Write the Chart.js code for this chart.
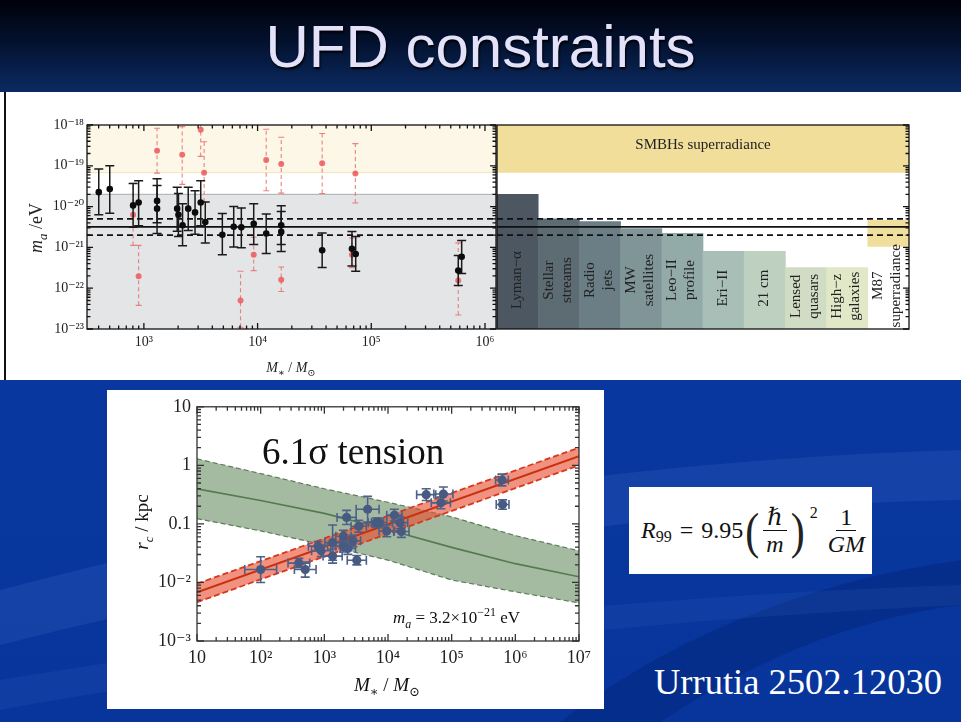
<!DOCTYPE html>
<html lang="en">
<head>
<meta charset="UTF-8" />
<title>UFD constraints</title>
<script src="https://cdn.jsdelivr.net/npm/chart.js"></script>
<style>
  html, body { margin: 0; padding: 0; }
  body { width: 961px; height: 722px; position: relative; overflow: hidden;
         background: linear-gradient(180deg, #0a3696 0%, #0838a0 40%, #07359b 100%);
         font-family: "Liberation Serif", "DejaVu Serif", serif; }
  #titlebar { position: absolute; left: 0; top: 0; width: 961px; height: 92px;
              background: linear-gradient(180deg, #00010a 0%, #03112e 45%, #0b2a62 100%); }
  #titlebar h1 { position: absolute; left: 0; top: 14px; width: 961px; margin: 0;
                 text-align: center; font: 60px/66px "Liberation Sans", Arial, sans-serif;
                 font-weight: normal; color: #e4e2fa; text-shadow: 1px 2px 2px #000; }
  #toppanel { position: absolute; left: 0; top: 92px; width: 961px; height: 288px; background: #fff; }
  #edge { position: absolute; left: 4px; top: 92px; width: 2px; height: 288px; background: #111; }
  #swoosh { position: absolute; left: 0; top: 380px; }
  canvas { position: absolute; }
  #cLeft { left: 0; top: 95px; }
  #cRight { left: 494px; top: 95px; }
  #botbox { position: absolute; left: 107px; top: 390px; width: 497px; height: 319px; background: #fff; }
  #cBottom { left: 0; top: 0; }
  #formula { position: absolute; left: 629px; top: 487px; width: 243px; height: 87px; background: #fff;
             display: flex; align-items: center; padding-left: 12px; box-sizing: border-box;
             font-size: 24px; color: #111; white-space: nowrap; }
  #formula .it { font-style: italic; }
  #formula .sub { font-size: 16px; position: relative; top: 6px; }
  #formula .op { margin: 0 8px; }
  #formula .paren { font-size: 42px; font-weight: 300; transform: scaleY(1.2); margin: 0 2px; color: #222; }
  #formula .frac { display: inline-flex; flex-direction: column; align-items: center; margin: 0 2px; line-height: 26px; }
  #formula .frac .num { border-bottom: 1.3px solid #111; padding: 0 4px; }
  #formula .sup { font-size: 16px; position: relative; top: -18px; margin: 0 8px 0 3px; }
  #cite { position: absolute; left: 654px; top: 664px; font-size: 36.5px; line-height: 35px; color: #fff; white-space: nowrap; }
</style>
</head>
<body>
<div id="titlebar"><h1>UFD constraints</h1></div>
<div id="toppanel"></div>
<div id="edge"></div>
<svg id="swoosh" width="961" height="342" viewBox="0 0 961 342">
  <path d="M0 210 C 260 140, 600 80, 961 70 L 961 120 C 640 125, 320 185, 0 265 Z" fill="rgba(110,150,235,0.13)"/>
  <path d="M560 342 C 680 250, 820 200, 961 180 L 961 225 C 840 240, 740 290, 660 342 Z" fill="rgba(0,18,80,0.22)"/>
  <path d="M0 300 C 300 250, 650 215, 961 205 L 961 225 C 650 240, 300 275, 0 330 Z" fill="rgba(120,160,240,0.08)"/>
</svg>
<canvas id="cLeft" width="500" height="285"></canvas>
<canvas id="cRight" width="467" height="285"></canvas>
<div id="botbox"><canvas id="cBottom" width="497" height="319"></canvas></div>
<div id="formula">
  <span class="it">R</span><span class="sub">99</span><span class="op">=</span><span>9.95</span>
  <span class="paren">(</span><span class="frac"><span class="num it">ℏ</span><span class="it">m</span></span><span class="paren">)</span><span class="sup">2</span>
  <span class="frac"><span class="num">1</span><span class="it">GM</span></span>
</div>
<div id="cite">Urrutia 2502.12030</div>

<script>
// ---------- upper figure: axion mass bound per dwarf ----------
const topXMin = 316, topXMax = 1.25e6;
const topYMin = 1e-23, topYMax = 1e-18;
const topXTicks = [1e3, 1e4, 1e5, 1e6];
const topXLabels = ['10³', '10⁴', '10⁵', '10⁶'];
const topYTicks = [1e-23, 1e-22, 1e-21, 1e-20, 1e-19, 1e-18];
const topYLabels = ['10⁻²³', '10⁻²²', '10⁻²¹', '10⁻²⁰', '10⁻¹⁹', '10⁻¹⁸'];

const blackMass = [401, 501, 804, 899, 1306, 1306, 1963, 2014, 2188, 2455, 2818, 3162, 3467,
                   4898, 6166, 7194, 9247, 11910, 16140, 16140, 36980, 67610, 72940, 582100, 623700];
const blackMa = [2.26e-20, 2.7e-20, 1.07e-20, 1.26e-20, 1.38e-20, 8.9e-21, 8.9e-21, 6.3e-21, 3.5e-21, 8.9e-21, 7.2e-21, 1.26e-20, 4.2e-21,
                 2.04e-21, 3.2e-21, 3.1e-21, 3.8e-21, 2.2e-21, 3.5e-21, 2.4e-21, 8.5e-22, 9.3e-22, 6.9e-22, 2.7e-22, 5.9e-22];
const blackHi = [8.3e-20, 1.0e-19, 3.7e-20, 4.3e-20, 4.8e-20, 3.3e-20, 3.0e-20, 2.1e-20, 1.17e-20, 3.0e-20, 2.45e-20, 4.3e-20, 1.29e-20,
                 6.8e-21, 1.0e-20, 9.3e-21, 1.17e-20, 6.6e-21, 1.05e-20, 7.6e-21, 2.24e-21, 2.45e-21, 1.86e-21, 6.3e-22, 1.48e-21];
const blackLo = [6.3e-21, 6.9e-21, 3.1e-21, 3.4e-21, 4.0e-21, 2.2e-21, 2.5e-21, 1.86e-21, 1.1e-21, 2.6e-21, 2.1e-21, 3.4e-21, 1.29e-21,
                 6.6e-22, 1.02e-21, 9.8e-22, 1.17e-21, 7.1e-22, 1.17e-21, 7.9e-22, 3.2e-22, 3.5e-22, 2.6e-22, 1.17e-22, 2.3e-22];

const redMass = [804, 899, 1306, 2173, 3162, 3388, 7079, 9247, 11910, 16140, 16140, 36980, 72440, 67610, 582100];
const redMa = [6.3e-21, 1.95e-22, 2.34e-19, 1.86e-19, 7.6e-19, 6.8e-20, 5.0e-23, 6.6e-22, 1.38e-19, 1.1e-19, 1.62e-22, 1.15e-19, 6.5e-20, 6.6e-22, 1.55e-22];
const redHi = [3.7e-20, 1.12e-21, 8.3e-19, 9.1e-19, 1.2e-18, 3.9e-19, 2.6e-22, 1.78e-21, 7.9e-19, 5.0e-19, 3.3e-22, 6.2e-19, 3.5e-19, 1.7e-21, 1.29e-21];
const redLo = [1.12e-21, 3.8e-23, 6.6e-20, 3.5e-20, 1.7e-19, 1.29e-20, 1.1e-23, 2.7e-22, 2.45e-20, 2.14e-20, 8.3e-23, 2.1e-20, 1.23e-20, 3.2e-22, 2.2e-23];

const smbhBand = [6.8e-20, 1e-18];
const lymanTop = 2.0e-20;
const refMass = 3.2e-21;
const refBand = [2.0e-21, 5.0e-21];

// other constraints (right panel)
const constraintLabels = [['Lyman−α'], ['Stellar', 'streams'], ['Radio', 'jets'], ['MW', 'satellites'], ['Leo−II', 'profile'],
                          ['Eri−II'], ['21 cm'], ['Lensed', 'quasars'], ['High−z', 'galaxies'], ['M87', 'superradiance']];
const constraintTop = [2.0e-20, 5.0e-21, 4.3e-21, 2.9e-21, 2.2e-21, 8.0e-22, 8.0e-22, 3.2e-22, 3.2e-22, null];
const m87Range = [1.05e-21, 4.6e-21];
const constraintColors = ['#4c5761', '#5d6b73', '#6c7e85', '#7f9598', '#93aba8', '#a7bfb6', '#bed1c0', '#d0ddc4', '#e0e8c7', '#f0de9c'];

// ---------- lower figure: core radius vs stellar mass ----------
const botXTicks = [10, 1e2, 1e3, 1e4, 1e5, 1e6, 1e7];
const botXLabels = ['10', '10²', '10³', '10⁴', '10⁵', '10⁶', '10⁷'];
const botYTicks = [1e-3, 1e-2, 0.1, 1, 10];
const botYLabels = ['10⁻³', '10⁻²', '0.1', '1', '10'];

const ufdMass = [100, 398, 501, 794, 891, 1349, 1349, 1995, 1995, 2239, 2344, 2818, 3236,
                 3467, 4786, 6457, 7244, 9550, 12590, 15490, 16220, 39810, 67610, 74130, 616600, 631000];
const ufdRc = [0.0166, 0.0214, 0.0166, 0.0417, 0.0347, 0.0282, 0.0479, 0.0617, 0.0417, 0.129, 0.038, 0.0513, 0.024,
               0.0912, 0.178, 0.105, 0.105, 0.0759, 0.141, 0.105, 0.0741, 0.316, 0.229, 0.324, 0.562, 0.214];
const ufdMassErrDex = [0.25, 0.17, 0.17, 0.15, 0.15, 0.15, 0.12, 0.12, 0.12, 0.15, 0.12, 0.12, 0.15,
                       0.12, 0.18, 0.12, 0.12, 0.12, 0.12, 0.12, 0.12, 0.15, 0.15, 0.15, 0.10, 0.10];
const ufdRcErrDex = [0.22, 0.08, 0.13, 0.08, 0.10, 0.12, 0.30, 0.10, 0.10, 0.12, 0.10, 0.10, 0.08,
                     0.10, 0.22, 0.08, 0.08, 0.10, 0.10, 0.10, 0.10, 0.10, 0.10, 0.12, 0.10, 0.08];

const greenX = [10, 1e2, 1e3, 1e4, 1e5, 1e6, 1e7];
const greenUpper = [1.29, 0.724, 0.398, 0.234, 0.132, 0.0631, 0.0347];
const greenMid = [0.398, 0.251, 0.151, 0.0794, 0.0398, 0.0209, 0.0125];
const greenLower = [0.123, 0.0759, 0.0437, 0.024, 0.011, 0.00692, 0.00447];

const redX = [10, 1e7];
const redUpper = [0.0095, 2.0];
const redMid = [0.0068, 1.43];
const redLower = [0.0046, 1.0];

// ---------- helpers ----------
Chart.defaults.font.family = '"Liberation Serif", "DejaVu Serif", serif';
Chart.defaults.color = '#222';
const FAM = '"Liberation Serif", "DejaVu Serif", serif';

function logSteps(min, max) {
  const out = [];
  for (let e = Math.floor(Math.log10(min)); e <= Math.ceil(Math.log10(max)); e++) {
    for (let k = 1; k <= 9; k++) {
      const v = k * Math.pow(10, e);
      if (v >= min * 0.999 && v <= max * 1.001) out.push({ v, major: k === 1 });
    }
  }
  return out;
}

// draws text pieces with italic / sub / sup parts
function rich(ctx, parts, x, y, size, align) {
  const fontOf = p => (p.it ? 'italic ' : '') + Math.round(p.sub || p.sup ? size * 0.7 : size) + 'px ' + FAM;
  let total = 0;
  const widths = parts.map(p => { ctx.font = fontOf(p); const w = ctx.measureText(p.t).width; total += w; return w; });
  let cx = align === 'center' ? x - total / 2 : align === 'right' ? x - total : x;
  ctx.textAlign = 'left';
  ctx.textBaseline = 'alphabetic';
  parts.forEach((p, i) => {
    ctx.font = fontOf(p);
    const dy = p.sub ? size * 0.28 : p.sup ? -size * 0.42 : 0;
    ctx.fillText(p.t, cx, y + dy);
    cx += widths[i];
  });
}

const massTitle = [{ t: 'M', it: 1 }, { t: '∗', sub: 1 }, { t: ' / ' }, { t: 'M', it: 1 }, { t: '⊙', sub: 1 }];

// frame + inward log ticks
const frameTicks = {
  id: 'frameTicks',
  afterDraw(chart, args, o) {
    const { ctx, chartArea: a } = chart;
    ctx.save();
    ctx.strokeStyle = o.color || '#111';
    ctx.lineWidth = o.width || 1;
    ctx.beginPath();
    const seg = (x1, y1, x2, y2) => { ctx.moveTo(x1, y1); ctx.lineTo(x2, y2); };
    const xs = o.xSides || [], ys = o.ySides || [];
    if (xs.length) {
      const sx = chart.scales.x;
      logSteps(sx.min, sx.max).forEach(t => {
        const px = sx.getPixelForValue(t.v), len = t.major ? o.major : o.minor;
        if (xs.includes('bottom')) seg(px, a.bottom, px, a.bottom - len);
        if (xs.includes('top')) seg(px, a.top, px, a.top + len);
      });
    }
    if (ys.length) {
      const sy = chart.scales.y;
      logSteps(sy.min, sy.max).forEach(t => {
        const py = sy.getPixelForValue(t.v), len = t.major ? o.major : o.minor;
        if (ys.includes('left')) seg(a.left, py, a.left + len, py);
        if (ys.includes('right')) seg(a.right, py, a.right - len, py);
      });
    }
    ctx.stroke();
    ctx.strokeRect(a.left, a.top, a.right - a.left, a.bottom - a.top);
    ctx.restore();
  }
};

// error bars drawn just before the points of their dataset
const errorBars = {
  id: 'errorBars',
  beforeDatasetDraw(chart, args) {
    const e = chart.data.datasets[args.index].errorBars;
    if (!e) return;
    const { ctx, chartArea: a, scales: { x, y } } = chart;
    ctx.save();
    ctx.beginPath();
    ctx.rect(a.left, a.top, a.right - a.left, a.bottom - a.top);
    ctx.clip();
    ctx.strokeStyle = e.color;
    ctx.lineWidth = e.width;
    args.meta.data.forEach((pt, i) => {
      const c = e.cap;
      if (e.yLo) {
        const y1 = y.getPixelForValue(e.yLo[i]), y2 = y.getPixelForValue(e.yHi[i]);
        ctx.setLineDash(e.dash || []);
        ctx.beginPath(); ctx.moveTo(pt.x, y1); ctx.lineTo(pt.x, y2); ctx.stroke();
        ctx.setLineDash([]);
        ctx.beginPath();
        ctx.moveTo(pt.x - c, y1); ctx.lineTo(pt.x + c, y1);
        ctx.moveTo(pt.x - c, y2); ctx.lineTo(pt.x + c, y2);
        ctx.stroke();
      }
      if (e.xLo) {
        const x1 = x.getPixelForValue(e.xLo[i]), x2 = x.getPixelForValue(e.xHi[i]);
        ctx.beginPath();
        ctx.moveTo(x1, pt.y); ctx.lineTo(x2, pt.y);
        ctx.moveTo(x1, pt.y - c); ctx.lineTo(x1, pt.y + c);
        ctx.moveTo(x2, pt.y - c); ctx.lineTo(x2, pt.y + c);
        ctx.stroke();
      }
    });
    ctx.restore();
  }
};

const hLine = (xAxis, x0, x1, yv, dash, extra) => Object.assign({
  type: 'line', xAxisID: xAxis, data: [{ x: x0, y: yv }, { x: x1, y: yv }],
  borderColor: '#111', borderWidth: 1.8, borderDash: dash, pointRadius: 0, fill: false, order: 5
}, extra || {});

const noChrome = { legend: { display: false }, tooltip: { enabled: false } };

// ---------- upper left panel ----------
new Chart(document.getElementById('cLeft'), {
  type: 'scatter',
  data: {
    datasets: [
      { type: 'line', data: [{ x: topXMin, y: smbhBand[1] }, { x: topXMax, y: smbhBand[1] }], fill: { value: smbhBand[0] },
        backgroundColor: '#fdf7e8', borderWidth: 0, pointRadius: 0, order: 30 },
      hLine('x', topXMin, topXMax, smbhBand[0], [], { borderColor: '#f3e4ba', borderWidth: 1, order: 29 }),
      { type: 'line', data: [{ x: topXMin, y: lymanTop }, { x: topXMax, y: lymanTop }], fill: 'start',
        backgroundColor: '#e4e5e7', borderColor: '#a9abad', borderWidth: 1, pointRadius: 0, order: 28 },
      hLine('x', topXMin, topXMax, refMass, []),
      hLine('x', topXMin, topXMax, refBand[0], [6, 4]),
      hLine('x', topXMin, topXMax, refBand[1], [6, 4]),
      { data: redMass.map((m, i) => ({ x: m, y: redMa[i] })), pointRadius: 3, pointBorderWidth: 0,
        pointBackgroundColor: 'rgba(236,90,90,0.85)', order: 2,
        errorBars: { yLo: redLo, yHi: redHi, color: 'rgba(232,110,110,0.85)', width: 1.1, dash: [4, 3], cap: 3 } },
      { data: blackMass.map((m, i) => ({ x: m, y: blackMa[i] })), pointRadius: 3.3, pointBorderWidth: 0,
        pointBackgroundColor: '#0c0c0c', order: 1,
        errorBars: { yLo: blackLo, yHi: blackHi, color: '#1a1a1a', width: 1.5, cap: 4.5 } }
    ]
  },
  options: {
    responsive: false, animation: false,
    layout: { padding: { left: 0, right: 3, top: 30, bottom: 0 } },
    plugins: Object.assign({}, noChrome, {
      frameTicks: { xSides: ['bottom', 'top'], ySides: ['left', 'right'], major: 6, minor: 3.5, width: 1.3 }
    }),
    scales: {
      x: { type: 'logarithmic', min: topXMin, max: topXMax,
           afterFit: s => { s.height = 51; },
           afterBuildTicks: s => { s.ticks = topXTicks.map(v => ({ value: v })); },
           grid: { display: false, drawTicks: false }, border: { display: false },
           ticks: { autoSkip: false, maxRotation: 0, padding: 5, font: { size: 14 }, callback: (v, i) => topXLabels[i] } },
      y: { type: 'logarithmic', min: topYMin, max: topYMax,
           afterFit: s => { s.width = 87; },
           afterBuildTicks: s => { s.ticks = topYTicks.map(v => ({ value: v })); },
           grid: { display: false, drawTicks: false }, border: { display: false },
           ticks: { autoSkip: false, padding: 3, font: { size: 14 }, callback: (v, i) => topYLabels[i] } }
    }
  },
  plugins: [errorBars, frameTicks, {
    id: 'titlesTop',
    afterDraw(chart) {
      const ctx = chart.ctx;
      ctx.save();
      ctx.fillStyle = '#222';
      rich(ctx, massTitle, 291, 277, 14, 'center');
      ctx.translate(42, 133);
      ctx.rotate(-Math.PI / 2);
      rich(ctx, [{ t: 'm', it: 1 }, { t: 'a', it: 1, sub: 1 }, { t: ' /eV' }], 0, 0, 18, 'center');
      ctx.restore();
    }
  }]
});

// ---------- upper right panel ----------
new Chart(document.getElementById('cRight'), {
  type: 'bar',
  data: {
    labels: constraintLabels,
    datasets: [
      { type: 'line', xAxisID: 'xl', data: [{ x: 0, y: smbhBand[1] }, { x: 1, y: smbhBand[1] }], fill: { value: smbhBand[0] },
        backgroundColor: '#f1de9b', borderWidth: 0, pointRadius: 0, order: 30 },
      { data: constraintTop, backgroundColor: constraintColors, order: 20 },
      { data: constraintTop.map((v, i) => i === constraintTop.length - 1 ? m87Range : null), backgroundColor: '#f0de9c', order: 19 },
      hLine('xl', 0, 1, refMass, []),
      hLine('xl', 0, 1, refBand[0], [6, 4]),
      hLine('xl', 0, 1, refBand[1], [6, 4])
    ]
  },
  options: {
    responsive: false, animation: false,
    layout: { padding: { left: 3, right: 52, top: 30, bottom: 51 } },
    datasets: { bar: { grouped: false, barPercentage: 1, categoryPercentage: 1, borderWidth: 0 } },
    plugins: Object.assign({}, noChrome, {
      frameTicks: { xSides: [], ySides: ['right'], major: 6, minor: 3.5, width: 1.3 }
    }),
    scales: {
      x: { display: false },
      xl: { type: 'linear', min: 0, max: 1, offset: false, display: false },
      y: { type: 'logarithmic', min: topYMin, max: topYMax, display: false }
    }
  },
  plugins: [frameTicks, {
    id: 'barText',
    afterDatasetsDraw(chart) {
      const { ctx, chartArea: a, scales: { x, y } } = chart;
      ctx.save();
      ctx.fillStyle = '#222';
      ctx.font = '15px ' + FAM;
      ctx.textAlign = 'center';
      ctx.textBaseline = 'alphabetic';
      ctx.fillText('SMBHs superradiance', (a.left + a.right) / 2, 54);
      ctx.textBaseline = 'middle';
      constraintLabels.forEach((lines, i) => {
        const top = constraintTop[i] !== null ? constraintTop[i] : m87Range[0];
        const upper = Math.max(y.getPixelForValue(top), y.getPixelForValue(refBand[0]));
        const cy = (upper + a.bottom) / 2 - 2;
        const cx = x.getPixelForValue(i);
        lines.forEach((ln, j) => {
          const off = (j - (lines.length - 1) / 2) * 18;
          ctx.save();
          ctx.translate(cx + off - 1, cy);
          ctx.rotate(-Math.PI / 2);
          ctx.fillText(ln, 0, 0);
          ctx.restore();
        });
      });
      ctx.restore();
    }
  }]
});

// ---------- lower figure ----------
const pts = (xs, ys) => xs.map((v, i) => ({ x: v, y: ys[i] }));

new Chart(document.getElementById('cBottom'), {
  type: 'scatter',
  data: {
    datasets: [
      { type: 'line', data: pts(greenX, greenUpper), borderColor: '#5e7d5b', borderWidth: 1.2, borderDash: [5, 3],
        fill: '+1', backgroundColor: 'rgba(105,142,98,0.6)', pointRadius: 0, order: 30 },
      { type: 'line', data: pts(greenX, greenLower), borderColor: '#5e7d5b', borderWidth: 1.2, borderDash: [5, 3],
        fill: false, pointRadius: 0, order: 29 },
      { type: 'line', data: pts(greenX, greenMid), borderColor: '#557a50', borderWidth: 1.7, fill: false, pointRadius: 0, order: 28 },
      { type: 'line', data: pts(redX, redUpper), borderColor: '#d8381c', borderWidth: 1.8, borderDash: [6, 3],
        fill: '+1', backgroundColor: 'rgba(232,78,48,0.62)', pointRadius: 0, order: 20 },
      { type: 'line', data: pts(redX, redLower), borderColor: '#d8381c', borderWidth: 1.8, borderDash: [6, 3],
        fill: false, pointRadius: 0, order: 19 },
      { type: 'line', data: pts(redX, redMid), borderColor: '#c8300e', borderWidth: 2, fill: false, pointRadius: 0, order: 18 },
      { data: pts(ufdMass, ufdRc), pointRadius: 4.6, pointBorderWidth: 0, pointBackgroundColor: '#475b82', order: 1,
        errorBars: {
          xLo: ufdMass.map((m, i) => m / Math.pow(10, ufdMassErrDex[i])), xHi: ufdMass.map((m, i) => m * Math.pow(10, ufdMassErrDex[i])),
          yLo: ufdRc.map((r, i) => r / Math.pow(10, ufdRcErrDex[i])), yHi: ufdRc.map((r, i) => r * Math.pow(10, ufdRcErrDex[i])),
          color: '#4d6088', width: 1.6, cap: 4.5 } }
    ]
  },
  options: {
    responsive: false, animation: false,
    layout: { padding: { left: 0, right: 25, top: 15, bottom: 0 } },
    plugins: Object.assign({}, noChrome, {
      frameTicks: { xSides: ['bottom', 'top'], ySides: ['left', 'right'], major: 7, minor: 4, width: 1.3, color: '#333' }
    }),
    scales: {
      x: { type: 'logarithmic', min: 10, max: 1e7,
           afterFit: s => { s.height = 68; },
           afterBuildTicks: s => { s.ticks = botXTicks.map(v => ({ value: v })); },
           grid: { display: false, drawTicks: false }, border: { display: false },
           ticks: { autoSkip: false, maxRotation: 0, padding: 6, font: { size: 18 }, callback: (v, i) => botXLabels[i] } },
      y: { type: 'logarithmic', min: 1e-3, max: 10,
           afterFit: s => { s.width = 90; },
           afterBuildTicks: s => { s.ticks = botYTicks.map(v => ({ value: v })); },
           grid: { display: false, drawTicks: false }, border: { display: false },
           ticks: { autoSkip: false, padding: 6, font: { size: 18 }, callback: (v, i) => botYLabels[i] } }
    }
  },
  plugins: [errorBars, frameTicks, {
    id: 'titlesBottom',
    afterDraw(chart) {
      const ctx = chart.ctx;
      ctx.save();
      ctx.fillStyle = '#111';
      ctx.font = '37px ' + FAM;
      ctx.textAlign = 'left';
      ctx.textBaseline = 'alphabetic';
      ctx.fillText('6.1σ tension', 155, 74);
      rich(ctx, [{ t: 'm', it: 1 }, { t: 'a', it: 1, sub: 1 }, { t: ' = 3.2×10' }, { t: '−21', sup: 1 }, { t: ' eV' }], 286, 233, 17, 'left');
      rich(ctx, massTitle, 280, 301, 19, 'center');
      ctx.translate(41, 132);
      ctx.rotate(-Math.PI / 2);
      rich(ctx, [{ t: 'r', it: 1 }, { t: 'c', it: 1, sub: 1 }, { t: ' / kpc' }], 0, 0, 19, 'center');
      ctx.restore();
    }
  }]
});
</script>
</body>
</html>
